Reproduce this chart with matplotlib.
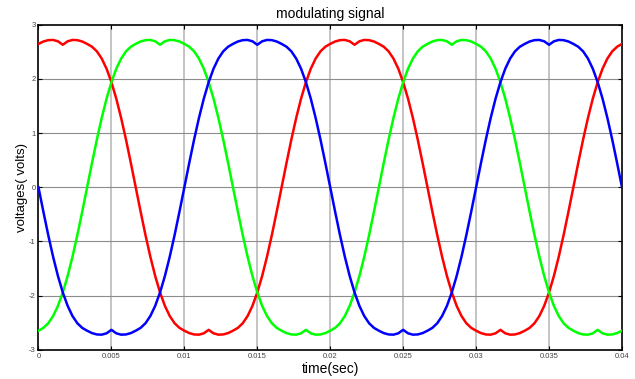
import numpy as np
import matplotlib
matplotlib.use("Agg")
import matplotlib.pyplot as plt

t_start, t_end, n_samples = 0.0, 0.04, 121

red = [2.646, 2.690, 2.715, 2.719, 2.694, 2.630, 2.694, 2.719, 2.715, 2.690,
       2.646, 2.594, 2.509, 2.376, 2.188, 1.940, 1.636, 1.279, 0.879, 0.447,
       0, -0.447, -0.879, -1.279, -1.636, -1.940, -2.188, -2.376, -2.509, -2.594,
       -2.646, -2.690, -2.715, -2.719, -2.694, -2.630, -2.694, -2.719, -2.715, -2.690,
       -2.646, -2.594, -2.509, -2.376, -2.188, -1.940, -1.636, -1.279, -0.879, -0.447,
       0, 0.447, 0.879, 1.279, 1.636, 1.940, 2.188, 2.376, 2.509, 2.594,
       2.646, 2.690, 2.715, 2.719, 2.694, 2.630, 2.694, 2.719, 2.715, 2.690,
       2.646, 2.594, 2.509, 2.376, 2.188, 1.940, 1.636, 1.279, 0.879, 0.447,
       0, -0.447, -0.879, -1.279, -1.636, -1.940, -2.188, -2.376, -2.509, -2.594,
       -2.646, -2.690, -2.715, -2.719, -2.694, -2.630, -2.694, -2.719, -2.715, -2.690,
       -2.646, -2.594, -2.509, -2.376, -2.188, -1.940, -1.636, -1.279, -0.879, -0.447,
       0, 0.447, 0.879, 1.279, 1.636, 1.940, 2.188, 2.376, 2.509, 2.594,
       2.646]

green = [-2.646, -2.594, -2.509, -2.376, -2.188, -1.940, -1.636, -1.279, -0.879, -0.447,
         0, 0.447, 0.879, 1.279, 1.636, 1.940, 2.188, 2.376, 2.509, 2.594,
         2.646, 2.690, 2.715, 2.719, 2.694, 2.630, 2.694, 2.719, 2.715, 2.690,
         2.646, 2.594, 2.509, 2.376, 2.188, 1.940, 1.636, 1.279, 0.879, 0.447,
         0, -0.447, -0.879, -1.279, -1.636, -1.940, -2.188, -2.376, -2.509, -2.594,
         -2.646, -2.690, -2.715, -2.719, -2.694, -2.630, -2.694, -2.719, -2.715, -2.690,
         -2.646, -2.594, -2.509, -2.376, -2.188, -1.940, -1.636, -1.279, -0.879, -0.447,
         0, 0.447, 0.879, 1.279, 1.636, 1.940, 2.188, 2.376, 2.509, 2.594,
         2.646, 2.690, 2.715, 2.719, 2.694, 2.630, 2.694, 2.719, 2.715, 2.690,
         2.646, 2.594, 2.509, 2.376, 2.188, 1.940, 1.636, 1.279, 0.879, 0.447,
         0, -0.447, -0.879, -1.279, -1.636, -1.940, -2.188, -2.376, -2.509, -2.594,
         -2.646, -2.690, -2.715, -2.719, -2.694, -2.630, -2.694, -2.719, -2.715, -2.690,
         -2.646]

blue = [0, -0.447, -0.879, -1.279, -1.636, -1.940, -2.188, -2.376, -2.509, -2.594,
        -2.646, -2.690, -2.715, -2.719, -2.694, -2.630, -2.694, -2.719, -2.715, -2.690,
        -2.646, -2.594, -2.509, -2.376, -2.188, -1.940, -1.636, -1.279, -0.879, -0.447,
        0, 0.447, 0.879, 1.279, 1.636, 1.940, 2.188, 2.376, 2.509, 2.594,
        2.646, 2.690, 2.715, 2.719, 2.694, 2.630, 2.694, 2.719, 2.715, 2.690,
        2.646, 2.594, 2.509, 2.376, 2.188, 1.940, 1.636, 1.279, 0.879, 0.447,
        0, -0.447, -0.879, -1.279, -1.636, -1.940, -2.188, -2.376, -2.509, -2.594,
        -2.646, -2.690, -2.715, -2.719, -2.694, -2.630, -2.694, -2.719, -2.715, -2.690,
        -2.646, -2.594, -2.509, -2.376, -2.188, -1.940, -1.636, -1.279, -0.879, -0.447,
        0, 0.447, 0.879, 1.279, 1.636, 1.940, 2.188, 2.376, 2.509, 2.594,
        2.646, 2.690, 2.715, 2.719, 2.694, 2.630, 2.694, 2.719, 2.715, 2.690,
        2.646, 2.594, 2.509, 2.376, 2.188, 1.940, 1.636, 1.279, 0.879, 0.447,
        0]

x_ticks = [0, 0.005, 0.01, 0.015, 0.02, 0.025, 0.03, 0.035, 0.04]
x_tick_labels = ["0", "0.005", "0.01", "0.015", "0.02", "0.025", "0.03", "0.035", "0.04"]
y_ticks = [-3, -2, -1, 0, 1, 2, 3]
y_tick_labels = ["-3", "-2", "-1", "0", "1", "2", "3"]

title = "modulating signal"
x_label = "time(sec)"
y_label = "voltages( volts)"

# ---- plot ----
plt.rcParams['font.family'] = ['Liberation Sans', 'DejaVu Sans']
plt.rcParams['axes.unicode_minus'] = False

t = np.linspace(t_start, t_end, n_samples)

fig = plt.figure(figsize=(6.35, 3.79), dpi=100)
ax = fig.add_axes([0.0606, 0.0768, 0.9795 - 0.0606, 0.9348 - 0.0768])

lw = 1.8
ax.plot(t, red, color='#ff0000', lw=lw, zorder=3)
ax.plot(t, green, color='#00ff00', lw=lw, zorder=3)
ax.plot(t, blue, color='#0000ff', lw=lw, zorder=3)

ax.set_xlim(0, 0.04)
ax.set_ylim(-3, 3)
ax.set_xticks(x_ticks)
ax.set_xticklabels(x_tick_labels)
ax.set_yticks(y_ticks)
ax.set_yticklabels(y_tick_labels)

for xv in x_ticks[1:-1]:
    ax.axvline(xv, color='#b4b4b4', lw=1.1, zorder=1)
for yv in y_ticks[1:-1]:
    ax.axhline(yv, color='#8c8c8c', lw=0.8, zorder=1)

ax.tick_params(direction='in', length=3, width=0.8, top=True, right=True,
               labelsize=5.5, labelcolor='#444444', pad=2)
for sp in ax.spines.values():
    sp.set_linewidth(1.2)
    sp.set_color('black')

ax.set_title(title, fontsize=10, pad=5)
ax.set_xlabel(x_label, fontsize=10, labelpad=2)
ax.set_ylabel(y_label, fontsize=9.5, labelpad=1)

fig.savefig("out.png", dpi=100)
